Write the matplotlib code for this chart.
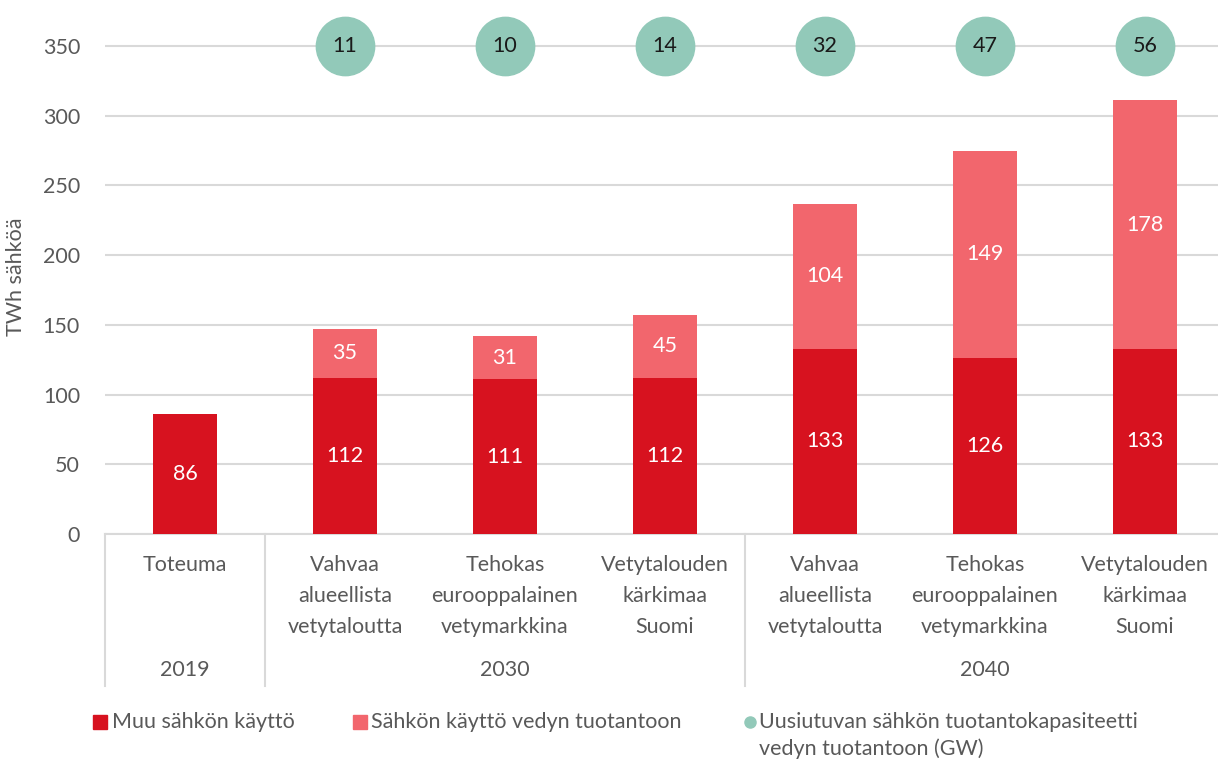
import matplotlib
matplotlib.use("Agg")
import matplotlib.pyplot as plt
import matplotlib.transforms as mtransforms
from matplotlib.patches import Rectangle
from matplotlib.lines import Line2D

scenarios = ["Toteuma",
             "Vahvaa\nalueellista\nvetytaloutta",
             "Tehokas\neurooppalainen\nvetymarkkina",
             "Vetytalouden\nkärkimaa\nSuomi",
             "Vahvaa\nalueellista\nvetytaloutta",
             "Tehokas\neurooppalainen\nvetymarkkina",
             "Vetytalouden\nkärkimaa\nSuomi"]
years = ["2019", "2030", "2040"]
year_groups = [(0, 0), (1, 3), (4, 6)]
muu = [86, 112, 111, 112, 133, 126, 133]
vety = [0, 35, 31, 45, 104, 149, 178]
capacity = [None, 11, 10, 14, 32, 47, 56]

dark_red = "#D7121F"
light_red = "#F2666D"
green = "#92C9B9"
grey_txt = "#595959"
grid_c = "#D9D9D9"

plt.rcParams["font.family"] = ["Lato", "DejaVu Sans"]
plt.rcParams["font.size"] = 15.5

fig = plt.figure(figsize=(12.18, 7.6), dpi=100)
ax = fig.add_axes([105 / 1218, 226 / 760, 1113 / 1218, 514 / 760])

x = list(range(len(scenarios)))
ax.bar(x, muu, width=0.4, color=dark_red, zorder=3)
ax.bar(x, vety, width=0.4, bottom=muu, color=light_red, zorder=3)

for i in x:
    ax.text(i, muu[i] / 2, str(muu[i]), ha="center", va="center", color="white", zorder=4)
    if vety[i]:
        ax.text(i, muu[i] + vety[i] / 2, str(vety[i]), ha="center", va="center",
                color="white", zorder=4)
    if capacity[i] is not None:
        ax.plot(i, 350, "o", ms=42, color=green, zorder=5, clip_on=False)
        ax.text(i, 350, str(capacity[i]), ha="center", va="center", color="#1a1a1a", zorder=6)

ax.set_xlim(-0.5, -0.5 + 1113 / 160)
ax.set_ylim(0, 368.7)
ax.set_yticks(range(0, 351, 50))
ax.tick_params(axis="y", length=0, pad=18, labelcolor=grey_txt)
ax.set_xticks([])
ax.grid(axis="y", color=grid_c, lw=1.5, zorder=0)
for s in ["top", "right", "left"]:
    ax.spines[s].set_visible(False)
ax.spines["bottom"].set_color(grid_c)
ax.spines["bottom"].set_linewidth(1.5)
ax.set_ylabel("TWh sähköä", color=grey_txt, labelpad=12)

trans = mtransforms.blended_transform_factory(ax.transData, ax.transAxes)
for i, lab in enumerate(scenarios):
    ax.text(i, -0.04, lab, transform=trans, ha="center", va="top", color=grey_txt,
            linespacing=1.7)
for yr, (a, b) in zip(years, year_groups):
    ax.text((a + b) / 2, -0.265, yr, transform=trans, ha="center", va="center", color=grey_txt)
for sep in [-0.5, 0.5, 3.5]:
    ax.add_line(Line2D([sep, sep], [0, -0.296], transform=trans, color=grid_c, lw=1.5,
                       clip_on=False))

# legend
fig.add_artist(Rectangle((93 / 1218, 31 / 760), 14 / 1218, 14 / 760,
                         transform=fig.transFigure, color=dark_red))
fig.text(112 / 1218, 38 / 760, "Muu sähkön käyttö", va="center", color=grey_txt)
fig.add_artist(Rectangle((353 / 1218, 31 / 760), 14 / 1218, 14 / 760,
                         transform=fig.transFigure, color=light_red))
fig.text(371 / 1218, 38 / 760, "Sähkön käyttö vedyn tuotantoon", va="center", color=grey_txt)
fig.add_artist(Line2D([750 / 1218], [38 / 760], marker="o", ms=8, color=green,
                      transform=fig.transFigure))
fig.text(759 / 1218, 38 / 760, "Uusiutuvan sähkön tuotantokapasiteetti", va="center",
         color=grey_txt)
fig.text(759 / 1218, 11 / 760, "vedyn tuotantoon (GW)", va="center", color=grey_txt)

fig.savefig("out.png", dpi=100)
